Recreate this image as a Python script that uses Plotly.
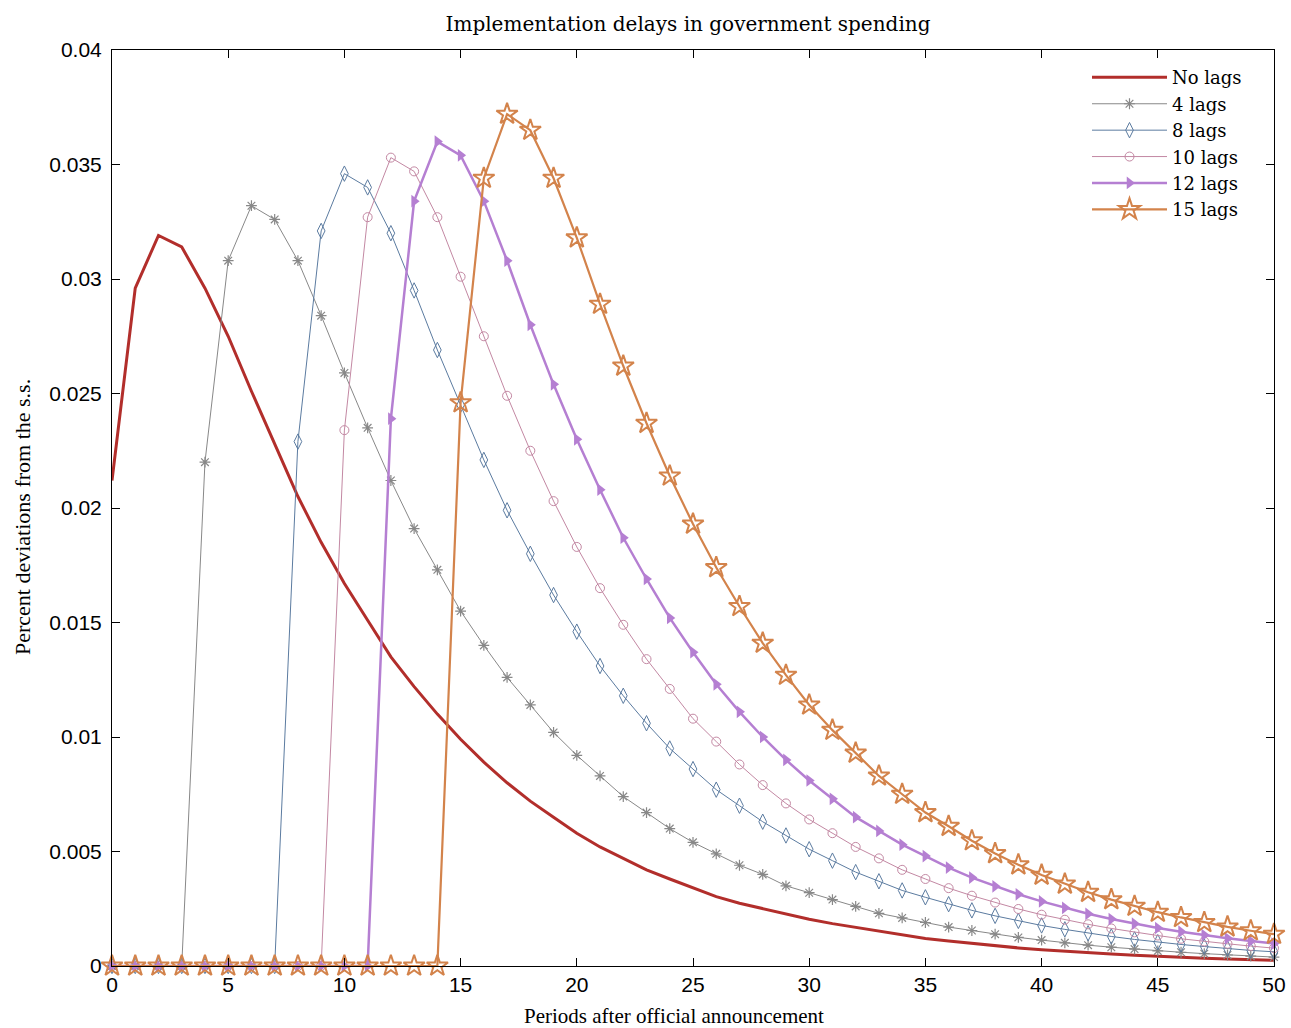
import plotly.graph_objects as go

periods = list(range(51))

no_lags = [0.0212, 0.0296, 0.0319, 0.0314, 0.0296, 0.0275, 0.0251, 0.0228, 0.0205, 0.0185,
           0.0167, 0.0151, 0.0135, 0.0122, 0.0110, 0.0099, 0.0089, 0.0080, 0.0072, 0.0065,
           0.0058, 0.0052, 0.0047, 0.0042, 0.0038, 0.0034, 0.00303, 0.00274, 0.0025, 0.00226,
           0.00204, 0.00185, 0.00168, 0.00151, 0.00135, 0.0012, 0.00109, 0.00098, 0.00088, 0.00079,
           0.00071, 0.00064, 0.00058, 0.00052, 0.00047, 0.00042, 0.00038, 0.00034, 0.00031, 0.00028,
           0.00025]

lags_4 = [0, 0, 0, 0, 0.0220, 0.0308, 0.0332, 0.0326, 0.0308, 0.0284,
          0.0259, 0.0235, 0.0212, 0.0191, 0.0173, 0.0155, 0.0140, 0.0126, 0.0114, 0.0102,
          0.0092, 0.0083, 0.0074, 0.0067, 0.0060, 0.0054, 0.0049, 0.0044, 0.0040, 0.0035,
          0.0032, 0.0029, 0.0026, 0.0023, 0.0021, 0.0019, 0.0017, 0.00155, 0.00139, 0.00125,
          0.00113, 0.00101, 0.00091, 0.00082, 0.00074, 0.00066, 0.0006, 0.00054, 0.00048, 0.00043,
          0.00039]

lags_8 = [0, 0, 0, 0, 0, 0, 0, 0, 0.0229, 0.0321,
          0.0346, 0.0340, 0.0320, 0.0295, 0.0269, 0.0245, 0.0221, 0.0199, 0.0180, 0.0162,
          0.0146, 0.0131, 0.0118, 0.0106, 0.0095, 0.0086, 0.0077, 0.0070, 0.0063, 0.0057,
          0.0051, 0.0046, 0.0041, 0.0037, 0.0033, 0.0030, 0.0027, 0.00243, 0.00219, 0.00197,
          0.00177, 0.0016, 0.00143, 0.00129, 0.00116, 0.00104, 0.00094, 0.00085, 0.00076, 0.00068,
          0.00062]

lags_10 = [0, 0, 0, 0, 0, 0, 0, 0, 0, 0,
           0.0234, 0.0327, 0.0353, 0.0347, 0.0327, 0.0301, 0.0275, 0.0249, 0.0225, 0.0203,
           0.0183, 0.0165, 0.0149, 0.0134, 0.0121, 0.0108, 0.0098, 0.0088, 0.0079, 0.0071,
           0.0064, 0.0058, 0.0052, 0.0047, 0.0042, 0.0038, 0.0034, 0.00307, 0.00277, 0.00249,
           0.00224, 0.00202, 0.00182, 0.00164, 0.00147, 0.00133, 0.00119, 0.00107, 0.00097, 0.00087,
           0.00078]

lags_12 = [0, 0, 0, 0, 0, 0, 0, 0, 0, 0,
           0, 0, 0.0239, 0.0334, 0.0360, 0.0354, 0.0334, 0.0308, 0.0280, 0.0254,
           0.0230, 0.0208, 0.0187, 0.0169, 0.0152, 0.0137, 0.0123, 0.0111, 0.0100, 0.0090,
           0.0081, 0.0073, 0.0065, 0.0059, 0.0053, 0.0048, 0.0043, 0.00386, 0.00348, 0.00313,
           0.00282, 0.00254, 0.00228, 0.00205, 0.00185, 0.00166, 0.0015, 0.00135, 0.00121, 0.00109,
           0.00098]

lags_15 = [0, 0, 0, 0, 0, 0, 0, 0, 0, 0,
           0, 0, 0, 0, 0, 0.0246, 0.0344, 0.0372, 0.0365, 0.0344,
           0.0318, 0.0289, 0.0262, 0.0237, 0.0214, 0.0193, 0.0174, 0.0157, 0.0141, 0.0127,
           0.0114, 0.0103, 0.0093, 0.0083, 0.0075, 0.0067, 0.0061, 0.00547, 0.00491, 0.00442,
           0.00397, 0.00358, 0.00322, 0.0029, 0.00261, 0.00235, 0.00212, 0.0019, 0.00171, 0.00154,
           0.00139]

x_ticks = list(range(0, 51, 5))
y_ticks = [0, 0.005, 0.01, 0.015, 0.02, 0.025, 0.03, 0.035, 0.04]
y_tick_text = ["0", "0.005", "0.01", "0.015", "0.02", "0.025", "0.03", "0.035", "0.04"]

TIMES = "Liberation Serif, Times New Roman, serif"
ROMAN = "DejaVu Serif, serif"
SANS = "Liberation Sans, Arial, Helvetica, sans-serif"

fig = go.Figure()

fig.add_trace(go.Scatter(
    x=periods, y=no_lags, name="No lags", mode="lines",
    line=dict(color="#B22E2B", width=3), cliponaxis=False))

fig.add_trace(go.Scatter(
    x=periods, y=lags_4, name="4 lags", mode="lines+markers",
    line=dict(color="#888888", width=1),
    marker=dict(symbol="asterisk-open", size=9, color="#888888",
                line=dict(color="#888888", width=1.2)),
    cliponaxis=False))

fig.add_trace(go.Scatter(
    x=periods, y=lags_8, name="8 lags", mode="lines+markers",
    line=dict(color="#5B7BA0", width=1),
    marker=dict(symbol="diamond-tall-open", size=11, color="#5B7BA0",
                line=dict(color="#5B7BA0", width=1)),
    cliponaxis=False))

fig.add_trace(go.Scatter(
    x=periods, y=lags_10, name="10 lags", mode="lines+markers",
    line=dict(color="#C388A3", width=1),
    marker=dict(symbol="circle-open", size=9, color="#C388A3",
                line=dict(color="#C388A3", width=1)),
    cliponaxis=False))

fig.add_trace(go.Scatter(
    x=periods, y=lags_12, name="12 lags", mode="lines+markers",
    line=dict(color="#B57FD2", width=2.5),
    marker=dict(symbol="triangle-right", size=11, color="#B57FD2"),
    cliponaxis=False))

fig.add_trace(go.Scatter(
    x=periods, y=lags_15, name="15 lags", mode="lines+markers",
    line=dict(color="#D3834B", width=2.2),
    marker=dict(symbol="star-open", size=16, color="#D3834B",
                line=dict(color="#D3834B", width=2)),
    cliponaxis=False))

axis_common = dict(
    showline=True, linecolor="black", linewidth=1, mirror="ticks",
    ticks="inside", ticklen=8, tickcolor="black", tickwidth=1,
    showgrid=False, zeroline=False, automargin=False,
    tickfont=dict(family=SANS, size=21, color="black"),
)

fig.update_xaxes(range=[0, 50], tickvals=x_ticks, ticktext=[str(v) for v in x_ticks],
                 **axis_common)
fig.update_yaxes(range=[0, 0.04], tickvals=y_ticks, ticktext=y_tick_text,
                 ticklabelstandoff=5, **axis_common)

fig.update_layout(
    width=1291, height=1028,
    margin=dict(l=112, r=17, t=50, b=62),
    paper_bgcolor="white", plot_bgcolor="white",
    title=dict(text="Implementation delays in government spending",
               x=688 / 1291, xanchor="center", y=1 - 24 / 1028, yanchor="middle",
               font=dict(family=ROMAN, size=20, color="black")),
    legend=dict(x=(1087 - 112) / 1162, xanchor="left", y=0.990, yanchor="top",
                bgcolor="rgba(255,255,255,0)", borderwidth=0,
                font=dict(family=ROMAN, size=18, color="black"),
                itemwidth=75, tracegroupgap=0),
    annotations=[
        dict(text="Periods after official announcement", xref="paper", yref="paper",
             x=(674 - 112) / 1162, y=-50 / 916, xanchor="center", yanchor="middle",
             showarrow=False, font=dict(family=TIMES, size=21, color="black")),
        dict(text="Percent deviations from the s.s.", xref="paper", yref="paper",
             x=(22 - 112) / 1162, y=(966 - 517) / 916, xanchor="center", yanchor="middle",
             textangle=-90, showarrow=False, font=dict(family=TIMES, size=22, color="black")),
    ],
)

fig.write_html("out.html")
